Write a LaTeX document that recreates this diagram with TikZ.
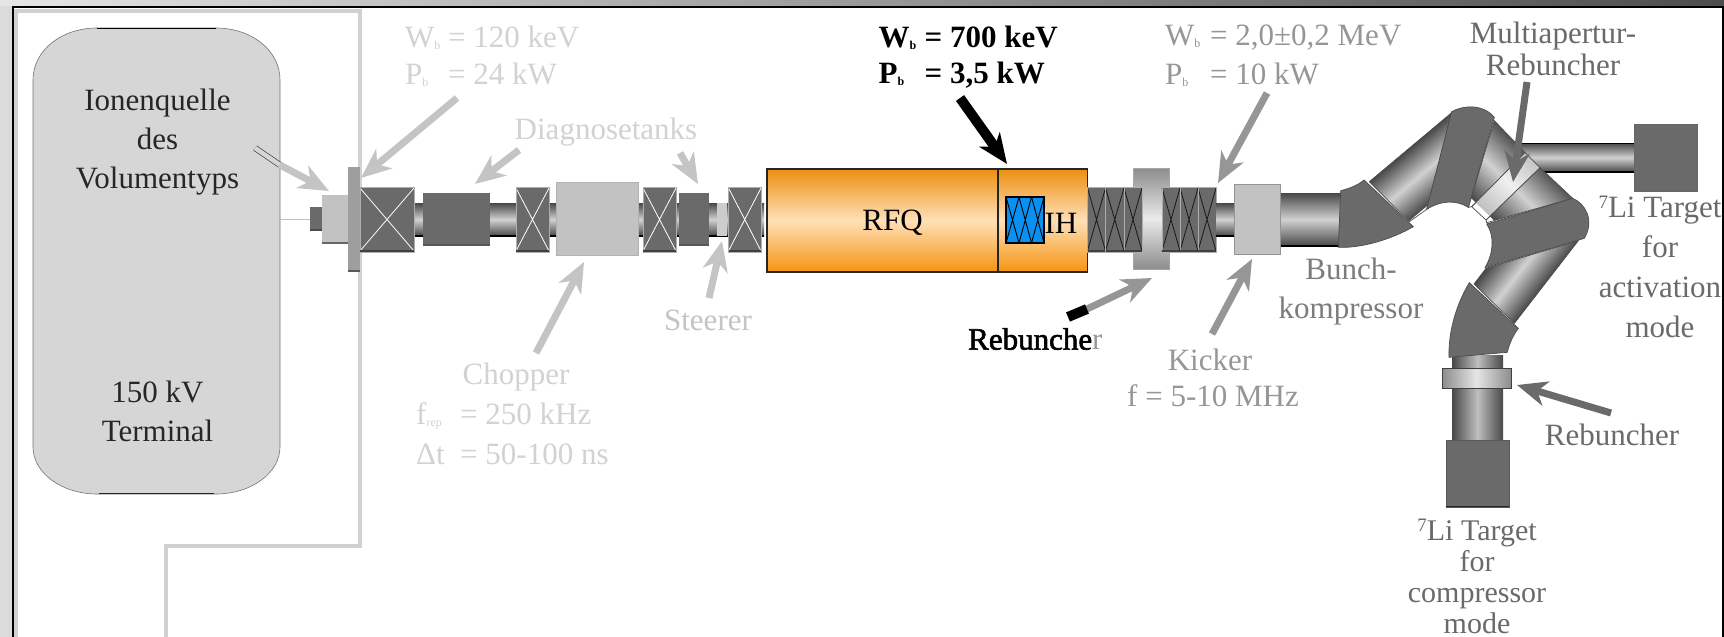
\documentclass[tikz,border=0pt]{standalone}
\usepackage{fontspec}
\setmainfont{Liberation Serif}
\newfontfamily\fakeboldfont[FakeBold=2]{Liberation Serif}
\usetikzlibrary{arrows.meta}
\definecolor{cA}{HTML}{D2D2D2}
\definecolor{cB}{HTML}{C4C4C4}
\definecolor{cC}{HTML}{969696}
\definecolor{cD}{HTML}{7C7C7C}
\definecolor{cE}{HTML}{6A6A6A}
\definecolor{tankc}{HTML}{6A6A6A}
\definecolor{lightbox}{HTML}{C2C2C2}
\definecolor{orT}{HTML}{EC8F10}
\definecolor{orM}{HTML}{FFE0B8}
\definecolor{orB}{HTML}{F59510}
\definecolor{blueb}{HTML}{0A90F0}
\tikzset{
  lab/.style={inner sep=0pt,font=\fontsize{31}{39}\selectfont,align=center},
  labw/.style={lab,anchor=west},
  arr/.style={line width=7pt,-{Stealth[length=30pt,width=25pt,inset=9pt]}},
  z3/.style={shift={(1250,0)},x=.33333pt,y=-.33333pt},
  dip/.style={z3,fill=tankc,draw=black!70,line width=.7pt},
  seam/.style={z3,draw=black!70,line width=.7pt}
}
\newcommand{\subb}[1]{\raisebox{-2pt}{\fontsize{12}{12}\selectfont #1}}
\newcommand{\eqbox}[2]{\makebox[#1pt][l]{#2}}
\newcommand{\magnet}[3]{%
  \fill[tankc] (#1,187) rectangle (#2,252);
  \draw[#3,line width=.8pt] (#1,188) -- (#2,251) (#2,188) -- (#1,251);
  \draw[black!32,line width=.9pt] (#1,187) rectangle (#2,252);
  \draw[black!75,line width=1.4pt] (#1,251) -- (#2,251);
}
\newcommand{\hpipe}[4]{% x1 x2 y1 y2
  \shade[top color=black!72,bottom color=black!72,middle color=black!18] (#1,#3) rectangle (#2,#4);
  \draw[black,line width=1.6pt] (#1,#4) -- (#2,#4);
}
\newcommand{\pipeseg}[5]{% polygon, cx, cy, angle, half width
  \begin{scope}
    \clip[z3] #1 -- cycle;
    \begin{scope}[transform canvas={shift={(#2,#3)},rotate=#4}]
      \shade[top color=black!72,bottom color=black!72,middle color=black!18] (-120,-#5) rectangle (120,#5);
    \end{scope}
  \end{scope}
  \draw[seam] #1 -- cycle;
}
\begin{document}
\begin{tikzpicture}[x=1pt,y=-1pt]
\useasboundingbox (0,0) rectangle (1724,637);
\fill[white] (0,0) rectangle (1724,637);
% outer window frame
\shade[left color=black!10,right color=black!70] (0,0) rectangle (1724,6);
\fill[black!14] (0,6) rectangle (12,637);
\draw[black,line width=2pt] (13,637) -- (13,7) -- (1723,7) -- (1723,637);
% terminal boundary
\draw[black!18,line width=3.5pt] (16,637) -- (16,11) -- (360,11) -- (360,546) -- (166,546) -- (166,637);
% terminal
\path[fill=black!16,draw=black!55,line width=.6pt] (97,28) -- (216,28) .. controls (251,28) and (280,50) .. (280,80) -- (280,447) .. controls (280,473) and (251,494) .. (216,494) -- (97,494) .. controls (62,494) and (33,473) .. (33,447) -- (33,80) .. controls (33,50) and (62,28) .. (97,28) -- cycle;
\draw[black,line width=.9pt] (97,28) -- (216,28);
\draw[black!85,line width=1.6pt] (99,493.5) -- (214,493.5);
\coordinate (tlineA) at (280,219);
\coordinate (tlineB) at (311,219);
\draw[black!25,line width=.8pt] (tlineA) -- (tlineB);
% beam pipe
\hpipe{414}{764}{203}{236}
% source parts
\fill[tankc] (310,207) rectangle (322,231);
\draw[black!70,line width=1.4pt] (310,230) -- (322,230);
\fill[lightbox] (322,195) rectangle (348,244);
\draw[black!60,line width=1.4pt] (322,243) -- (348,243);
\fill[black!38] (347.5,167) rectangle (360,272);
\draw[black!65,line width=1.2pt] (347.5,271) -- (360,271);
\magnet{360}{414}{white}
\fill[tankc] (423,193) rectangle (490,246);
\draw[black!65,line width=1.2pt] (423,245) -- (490,245);
\magnet{516}{549}{white}
\fill[lightbox,draw=black!30,line width=1pt] (556.5,182) rectangle (638,255);
\magnet{643}{676}{white}
\fill[tankc] (679,193) rectangle (709,246);
\draw[black!65,line width=1.2pt] (679,245) -- (709,245);
\fill[black!20] (717,203) rectangle (727,236);
\magnet{728.5}{761}{white}
% RFQ + IH
\shade[top color=orT,bottom color=orB,middle color=orM] (767,169) rectangle (1087.5,272);
\draw[black!85,line width=1.4pt] (767,272) -- (767,169) -- (1087.5,169) -- (1087.5,272) -- cycle;
\draw[black!85,line width=1.4pt] (998,169) -- (998,272);
\node[lab] (rfq) at (892.5,223) {RFQ};
\fill[blueb] (1006,197) rectangle (1044,243);
\foreach \a/\b in {1006/1019,1019/1031.5,1031.5/1044}
  \draw[black,line width=.9pt] (\a,197) -- (\b,243) (\b,197) -- (\a,243);
\draw[black,line width=1.2pt] (1006,197) rectangle (1044,243);
\node[lab] (ih) at (1061,223) {IH};
% rebuncher disc and magnets
\shade[top color=black!45,bottom color=black!45,middle color=black!8] (1133,168) rectangle (1169,269);
\draw[black!35,line width=.8pt] (1133,168) rectangle (1169,269);
\foreach \a/\b in {1087.5/1105.5,1105.5/1124,1124/1142,1162/1180,1180/1198,1198/1216} {
  \magnet{\a}{\b}{black!90}
}
% pipes and kicker
\hpipe{1216}{1236}{203}{236}
\hpipe{1280}{1342}{193}{246}
\fill[lightbox,draw=black!42,line width=1pt] (1234,184) rectangle (1280,254);
% right arm
\hpipe{1515}{1634}{143}{172}
\draw[black,line width=1pt] (1515,143) -- (1634,143);
\fill[tankc,draw=black!60,line width=.8pt] (1634,124) rectangle (1697,191);
% bend
\pipeseg{(358,545) -- (605,338) -- (530,628) -- (478,665)}{1387}{203}{40}{28}
\pipeseg{(733,362) -- (825,458) -- (665,620) -- (655,622)}{1518}{192}{-44}{37}
\pipeseg{(870,503) -- (968,595) -- (710,668) -- (708,660)}{1518}{192}{-44}{37}
\begin{scope}
  \clip[z3] (665,620) -- (825,458) -- (870,503) -- (708,660) -- cycle;
  \begin{scope}[transform canvas={shift={(1518,192)},rotate=-44}]
    \shade[top color=black!25,bottom color=black!25,middle color=black!6] (-120,-37) rectangle (120,37);
  \end{scope}
\end{scope}
\draw[seam] (665,620) -- (825,458) -- (870,503) -- (708,660) -- cycle;
\pipeseg{(985,722) -- (708,805) -- (672,852) -- (793,970)}{1508}{286}{52}{28}
\draw[dip] (272,572) .. controls (300,565) and (325,555) .. (342,540) -- (490,680) .. controls (430,715) and (340,745) .. (265,742) -- cycle;
\draw[dip] (605,335) .. controls (640,315) and (700,312) .. (733,352) -- (655,622) .. controls (620,600) and (575,600) .. (530,628) -- cycle;
\draw[dip] (968,595) .. controls (1005,610) and (1035,660) .. (1003,715) -- (705,803) .. controls (730,760) and (735,710) .. (710,672) -- cycle;
% lower arm
\shade[left color=black!72,right color=black!72,middle color=black!25] (1452,355) rectangle (1503,440);
\draw[dip] (658,848) -- (805,985) .. controls (790,1005) and (778,1030) .. (772,1057) -- (597,1072) .. controls (595,1000) and (615,920) .. (658,848) -- cycle;
\shade[left color=black!45,right color=black!45,middle color=black!10] (1442,368) rectangle (1511,388);
\draw[black!75,line width=.8pt] (1442,368) rectangle (1511,388);
\fill[tankc,draw=black!65,line width=.8pt] (1446,440) rectangle (1509,507);
\draw[black!85,line width=1.2pt] (1446,506.5) -- (1509,506.5);
% labels
\node[lab,text=black!85] (ion) at (157.5,142) {Ionenquelle\\des\\Volumentyps};
\node[lab,text=black!85] (term) at (157.5,411) {150 kV\\Terminal};
\node[labw,text=cA] (w1) at (405,38) {\eqbox{43}{W\subb{b}}= 120 keV};
\node[labw,text=cA] (p1) at (405,75) {\eqbox{43}{P\subb{b}}= 24 kW};
\node[lab,text=cA] (diag) at (606,132) {Diagnosetanks};
\node[lab,text=cA] (chop) at (516,377) {Chopper};
\node[labw,text=cA] (frep) at (416,416) {\eqbox{44}{f\subb{rep}}= 250 kHz};
\node[labw,text=cA] (dt) at (416,454) {\eqbox{44}{Δt}= 50-100 ns};
\node[lab,text=cB] (steer) at (708,320) {Steerer};
\node[labw,text=black,font=\bfseries\fontsize{31}{39}\selectfont] (w2) at (878.5,38) {\eqbox{46}{W\subb{b}}= 700 keV};
\node[labw,text=black,font=\bfseries\fontsize{31}{39}\selectfont] (p2) at (878.5,75) {\eqbox{46}{P\subb{b}}= 3,5 kW};
\node[labw,text=cC] (w3) at (1165,38) {\eqbox{45}{W\subb{b}}= 2,0±0,2 MeV};
\node[labw,text=cC] (p3) at (1165,75) {\eqbox{45}{P\subb{b}}= 10 kW};
\node[labw] (reb1) at (968,339) {{\fakeboldfont\color{black}Rebunche}{\color{cC}r}};
\node[lab,text=cC] (kick) at (1210,360) {Kicker};
\node[labw,text=cC] (fk) at (1127,396) {f = 5-10 MHz};
\node[lab,text=cD,font=\fontsize{31}{39}\selectfont] (bunch) at (1351,292) {Bunch-\\kompressor};
\node[lab,text=cE,font=\fontsize{31}{32}\selectfont] (multi) at (1553,49) {Multiapertur-\\Rebuncher};
\node[lab,text=cE,font=\fontsize{31}{40}\selectfont] (lia) at (1660,267) {\raisebox{9pt}{\fontsize{19}{19}\selectfont 7}Li Target\\for\\activation\\mode};
\node[lab,text=cE] (reb2) at (1612,435) {Rebuncher};
\node[lab,text=cE,font=\fontsize{30}{31}\selectfont] (lib) at (1477,576) {\raisebox{9pt}{\fontsize{19}{19}\selectfont 7}Li Target\\for\\compressor\\mode};
% arrows
\coordinate (a1s) at (255,148); \coordinate (a1m) at (280,165); \coordinate (a1e) at (329,191);
\coordinate (a2s) at (457,98);  \coordinate (a2e) at (361,178);
\coordinate (a3s) at (519,150); \coordinate (a3e) at (475,184);
\coordinate (a4s) at (680,153); \coordinate (a4e) at (698,184);
\coordinate (a5s) at (536,353); \coordinate (a5e) at (584,262);
\coordinate (a6s) at (709,298); \coordinate (a6e) at (722,241);
\coordinate (a7s) at (960,98);  \coordinate (a7e) at (1007,164);
\coordinate (a8s) at (1267,93); \coordinate (a8e) at (1218,183);
\coordinate (a9s) at (1068,317); \coordinate (a9m) at (1087,309); \coordinate (a9e) at (1152,278);
\coordinate (a10s) at (1212,334); \coordinate (a10e) at (1252,259);
\coordinate (a11s) at (1527,82); \coordinate (a11e) at (1513,182);
\coordinate (a12s) at (1611,413); \coordinate (a12e) at (1517,385);
\draw[line width=6pt,draw=black!75] (a1s) -- (a1m);
\draw[line width=4.6pt,draw=black!16] (a1s) -- (a1m);
\draw[arr,draw=cB,fill=cB] (a1m) -- (a1e);
\draw[arr,draw=cB,fill=cB] (a2s) -- (a2e);
\draw[arr,draw=cB,fill=cB] (a3s) -- (a3e);
\draw[arr,draw=cB,fill=cB] (a4s) -- (a4e);
\draw[arr,draw=cB,fill=cB] (a5s) -- (a5e);
\draw[arr,draw=cB,fill=cB] (a6s) -- (a6e);
\draw[arr,line width=10pt,draw=black,fill=black] (a7s) -- (a7e);
\draw[arr,draw=cC,fill=cC] (a8s) -- (a8e);
\draw[arr,draw=cC,fill=cC] (a9m) -- (a9e);
\draw[black,line width=10pt] (a9s) -- (a9m);
\draw[arr,draw=cC,fill=cC] (a10s) -- (a10e);
\draw[arr,draw=cE,fill=cE] (a11s) -- (a11e);
\draw[arr,draw=cE,fill=cE] (a12s) -- (a12e);
\end{tikzpicture}
\end{document}
